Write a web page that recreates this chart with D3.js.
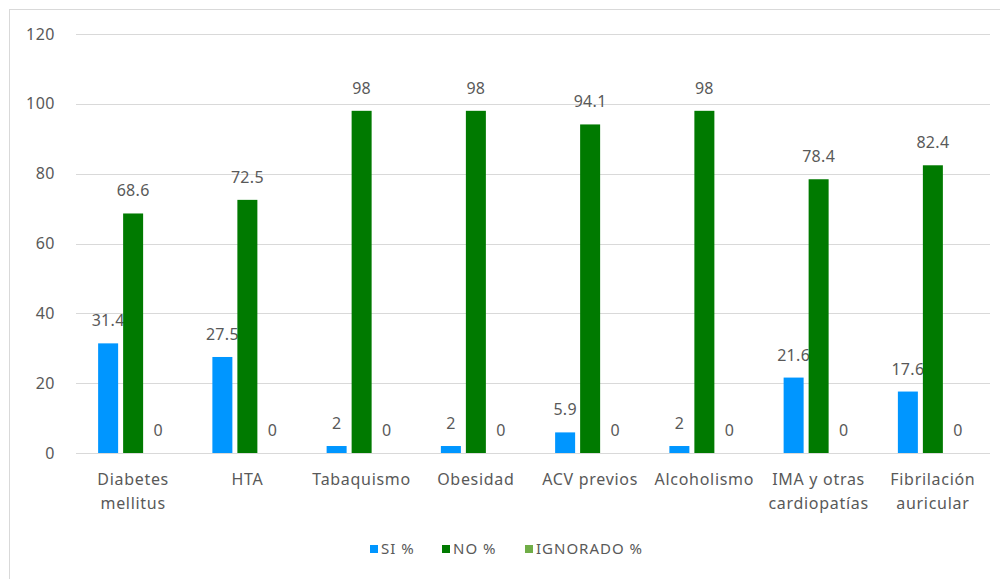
<!DOCTYPE html>
<html><head><meta charset="utf-8">
<script src="https://cdn.jsdelivr.net/npm/d3@7"></script>
<style>body{margin:0;background:#fff;} text{font-family:"Noto Sans",sans-serif;fill:#595959;}</style>
</head><body><svg id="c" width="1000" height="579"></svg>
<script>
const categories = [["Diabetes","mellitus"],["HTA"],["Tabaquismo"],["Obesidad"],["ACV previos"],["Alcoholismo"],["IMA y otras","cardiopatías"],["Fibrilación","auricular"]];
const seriesNames = ["SI %","NO %","IGNORADO %"];
const siValues = [31.4,27.5,2,2,5.9,2,21.6,17.6];
const noValues = [68.6,72.5,98,98,94.1,98,78.4,82.4];
const ignValues = [0,0,0,0,0,0,0,0];
const yTicks = [0,20,40,60,80,100,120];
const colors = ["#0096FF","#007A00","#70AD47"];

const svg = d3.select("#c");
svg.append("rect").attr("x",9.5).attr("y",9.5).attr("width",1000).attr("height",600)
  .attr("fill","#fff").attr("stroke","#d9d9d9");

const x0 = d3.scaleBand().domain(d3.range(categories.length)).range([76,990]).paddingInner(0).paddingOuter(0);
const x1 = d3.scaleBand().domain(d3.range(3)).range([x0.bandwidth()/2-35, x0.bandwidth()/2+35]).paddingInner(0.2).paddingOuter(0);
const y = d3.scaleLinear().domain([0,120]).range([453,34]);

const g = svg.append("g");
g.selectAll("line.grid").data(yTicks).join("line")
  .attr("x1",76).attr("x2",990).attr("y1",d=>Math.round(y(d))+0.5).attr("y2",d=>Math.round(y(d))+0.5)
  .attr("stroke","#d9d9d9").attr("stroke-width",1);
const yAxis = d3.axisLeft(y).tickValues(yTicks).tickSize(0).tickPadding(0);
const ya = svg.append("g").attr("transform","translate(55,0)").call(yAxis);
ya.select(".domain").remove();
ya.selectAll("text").style("font-size","16px").style("fill","#595959").style("font-family","'Noto Sans',sans-serif").style("letter-spacing","0.5px");

const series = [siValues,noValues,ignValues];
series.forEach((vals,si)=>{
  const sg = g.append("g");
  sg.selectAll("rect").data(vals).join("rect")
    .attr("x",(d,i)=>x0(i)+x1(si)).attr("width",x1.bandwidth())
    .attr("y",d=>y(d)).attr("height",d=>y(0)-y(d)).attr("fill",colors[si]);
  sg.selectAll("text").data(vals).join("text")
    .attr("x",(d,i)=>x0(i)+x1(si)+x1.bandwidth()/2).attr("y",d=>y(d)-17)
    .attr("text-anchor","middle").style("font-size","16px").style("letter-spacing","0.3px").text(d=>d);
});

const xl = svg.append("g");
categories.forEach((lines,i)=>{
  const cx = x0(i)+x0.bandwidth()/2;
  const t = xl.append("text").attr("x",cx).attr("y",485)
    .attr("text-anchor","middle").style("font-size","16px").style("letter-spacing","0.7px");
  lines.forEach((l,j)=>t.append("tspan").attr("x",cx).attr("dy",j?24:0).text(l));
});

const legX = [370,442,525];
const lg = svg.append("g");
seriesNames.forEach((n,i)=>{
  lg.append("rect").attr("x",legX[i]).attr("y",545).attr("width",8).attr("height",8).attr("fill",colors[i]);
  lg.append("text").attr("x",legX[i]+11).attr("y",554).style("font-size","15px").style("letter-spacing","1px").text(n);
});
</script></body></html>
